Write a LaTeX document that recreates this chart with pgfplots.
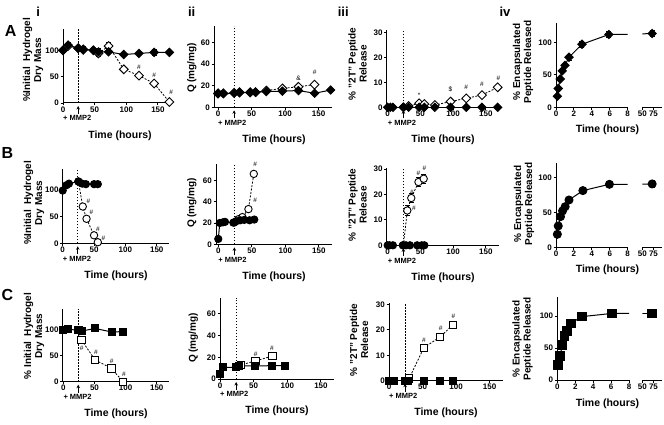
\documentclass[border=0pt]{standalone}
\usepackage{fontspec}
\setmainfont{Liberation Sans}
\usepackage{pgfplots}
\pgfplotsset{compat=1.18}
\usetikzlibrary{arrows.meta}

\newcommand{\tfs}{\bfseries\fontsize{8}{9}\selectfont}
\newcommand{\lfs}{\bfseries\fontsize{10}{11}\selectfont}
\newcommand{\xfs}{\bfseries\fontsize{10.5}{12}\selectfont}
\newcommand{\hfs}{\fontsize{6.5}{7}\selectfont}
\newcommand{\mfs}{\bfseries\fontsize{7.5}{8}\selectfont}

\pgfplotsset{
  pp/.style={scale only axis, anchor=south west,
    axis x line*=bottom, axis y line*=left,
    axis line style={line width=1pt},
    tick style={line width=0.9pt, black},
    tick align=outside, major tick length=2.5pt,
    /pgf/number format/assume math mode=true,
    ticklabel style={font=\tfs},
    xticklabel style={inner sep=1pt},
    yticklabel style={inner sep=1.5pt},
    clip=false},
  colI/.style={pp, xmin=0, xmax=170, ymin=0, ymax=140, xtick={0,50,100,150}, ytick={0,50,100}},
  colII/.style={pp, xmax=170, ymin=0, ymax=75, xtick={0,50,100,150}, ytick={0,20,40,60}},
  colIII/.style={pp, xmax=170, ymin=0, xtick={0,50,100,150}, ytick={0,10,20,30}},
  colIV/.style={pp, xmin=0, xmax=8, ymin=0, xtick={0,2,4,6,8}, ytick={0,50,100}, clip=true},
  colIVb/.style={pp, axis y line=none, xmin=50, xmax=94, xtick={50,75}, ymin=0, clip=true},
  cl/.style={black, line width=1pt, solid},
  op/.style={black, line width=0.8pt, dash pattern=on 2pt off 1.5pt},
  cd/.style={mark=square*, mark size=2.9pt, mark options={rotate=45, fill=black, solid}},
  od/.style={mark=square*, mark size=3.1pt, mark options={rotate=45, fill=white, solid, line width=0.9pt}},
  cc/.style={mark=*, mark size=3.6pt, mark options={fill=black, solid}},
  oc/.style={mark=*, mark size=3.7pt, mark options={fill=white, solid, line width=0.9pt}},
  cs/.style={mark=square*, mark size=3.5pt, mark options={fill=black, solid}},
  os/.style={mark=square*, mark size=3.7pt, mark options={fill=white, solid, line width=0.9pt}},
  vl/.style={black, line width=0.6pt, dash pattern=on 1.5pt off 1.5pt, mark=none},
  eb/.style={error bars/.cd, y dir=both, y explicit, error bar style={line width=0.9pt, solid}, error mark options={rotate=90, mark size=2.5pt, line width=0.9pt, solid}},
}

\newcommand{\mmp}{%
  \draw[-{Stealth[length=3.5pt,width=3.5pt]}, line width=0.9pt] ([yshift=-11pt]axis cs:24,0) -- ([yshift=-3pt]axis cs:24,0);
  \node[anchor=north west, font=\mfs, inner sep=0pt] at ([yshift=-12.5pt]axis cs:0,0) {+ MMP2};}

\begin{document}
\begin{tikzpicture}
\useasboundingbox (0,0) rectangle (664pt,-425pt);

% ---------------- Row A ----------------
\begin{axis}[colI, at={(63pt,-103pt)}, width=107.6pt, height=73.8pt]
\addplot[vl] coordinates {(24,0) (24,140)};
\addplot[op, od, eb] coordinates {(0,100) (8,108) (24,104) (32,101) (48,100) (56,94) +- (0,6) (72,108) +- (0,6) (96,64) (120,52) (144,37) (168,2)};
\addplot[cl, cd, eb] coordinates {(0,100) +- (0,3) (8,110) +- (0,5) (24,104) +- (0,3) (32,102) +- (0,5) (48,100) +- (0,3) (56,97) +- (0,6) (72,97) +- (0,3) (96,92) +- (0,3) (120,94) +- (0,2) (144,96) +- (0,5) (168,96) +- (0,2)};
\node[font=\hfs] at (axis cs:120,67) {\#};
\node[font=\hfs] at (axis cs:144,52) {\#};
\node[font=\hfs] at (axis cs:171,20) {\#};
\mmp
\end{axis}

\begin{axis}[colII, xmin=-6, at={(214pt,-107.3pt)}, width=118pt, height=81pt]
\addplot[vl] coordinates {(24,0) (24,75)};
\addplot[op, od] coordinates {(0,13) (8,13) (24,13.5) (32,14) (48,14) (56,14) (72,15.5) (96,17.5) (120,19) (144,21)};
\addplot[cl, cd] coordinates {(0,12.5) (8,12.5) (24,13) (32,13.5) (48,13.5) (56,14) (72,14.5) (96,15) (120,15.5) (144,13) (168,16)};
\node[font=\hfs] at (axis cs:120,27) {\&};
\node[font=\hfs] at (axis cs:144,32) {\#};
\mmp
\end{axis}

\begin{axis}[colIII, xmin=-1.5, ymax=31, at={(386.7pt,-107.3pt)}, width=112.3pt, height=77.5pt]
\addplot[vl] coordinates {(24,0) (24,31)};
\addplot[op, od] coordinates {(24,0) (32,0.5) (48,1.6) (56,1.3) (72,0.9) (96,2.3) (120,3.6) (144,4.9) (168,8)};
\addplot[cl, cd] coordinates {(0,0) (4,0) (8,0) (24,0) (32,0) (48,0) (56,0) (72,0) (96,0) (120,0) (144,0) (168,0)};
\node[font=\hfs] at (axis cs:48,5) {*};
\node[font=\hfs] at (axis cs:96,7) {\$};
\node[font=\hfs] at (axis cs:120,8) {\#};
\node[font=\hfs] at (axis cs:144,9.3) {\#};
\node[font=\hfs] at (axis cs:169,11.8) {\#};
\mmp
\end{axis}

\begin{axis}[colIV, ymax=130, at={(556pt,-107.3pt)}, width=71.7pt, height=84.5pt]
\addplot[cl, mark=none] coordinates {(0.15,17) (0.25,29) (0.47,43.5) (0.7,56) (1,64.5) (1.45,77) (2.9,97) (5.9,112) (72,113.5)};
\addplot[cl, cd, only marks, eb] coordinates {(0.15,17) +- (0,0) (0.25,29) +- (0,0) (0.47,43.5) +- (0,0) (0.7,56) +- (0,0) (1,64.5) +- (0,0) (1.45,77) +- (0,5) (2.9,97) +- (0,5) (5.9,112) +- (0,5)};
\end{axis}
\begin{axis}[colIVb, ymax=130, at={(642.3pt,-107.3pt)}, width=19.7pt, height=84.5pt]
\addplot[cl, mark=none] coordinates {(5.9,112) (72,113.5)};
\addplot[cl, cd, only marks, eb] coordinates {(72,113.5) +- (0,5)};
\end{axis}

% ---------------- Row B ----------------
\begin{axis}[colI, at={(62.7pt,-243.3pt)}, width=106.6pt, height=74.6pt]
\addplot[vl] coordinates {(24,0) (24,140)};
\addplot[op, oc] coordinates {(25,116) (32,69) (38,46) (50,15) (56,2)};
\addplot[cl, cc] coordinates {(0,99) (6,109) (10,112) (25,116) (31,112) (37,111) (50,111) (56,111)};
\node[font=\hfs] at (axis cs:41,79) {\#};
\node[font=\hfs] at (axis cs:46,57.5) {\#};
\node[font=\hfs] at (axis cs:56,26) {\#};
\node[font=\hfs] at (axis cs:65,9.4) {\#};
\mmp
\end{axis}

\begin{axis}[colII, xmin=-3.4, at={(216pt,-244.3pt)}, width=116.2pt, height=80pt]
\addplot[vl] coordinates {(24,0) (24,75)};
\addplot[op, oc] coordinates {(24,20.5) (30,23.5) (36,25.5) (45,33) (53,66)};
\addplot[cl, cc] coordinates {(0,5) (2.3,20) (7,20.6) (10,21) (22.4,20.3) (26.6,21.6) (32.7,22.5) (38.8,22.9) (46.7,22.5) (53.7,23.2)};
\node[font=\hfs] at (axis cs:55,75) {\#};
\node[font=\hfs] at (axis cs:55,41) {\#};
\mmp
\end{axis}

\begin{axis}[colIII, xmin=-1.5, ymax=30.5, at={(386.7pt,-245.3pt)}, width=112.3pt, height=77.5pt]
\addplot[vl] coordinates {(24,0) (24,30.5)};
\addplot[op, oc, eb] coordinates {(24,0) +- (0,0) (30,13.7) +- (0,1.8) (36,18.6) +- (0,1.8) (47,24.9) +- (0,1.8) (55,26.2) +- (0,1.8)};
\addplot[cl, cc] coordinates {(0,0) (3,0) (8,0) (23,0) (28,0) (34,0) (45,0) (52,0) (56,0)};
\node[font=\hfs] at (axis cs:40,14.6) {\#};
\node[font=\hfs] at (axis cs:37,20.7) {\#};
\node[font=\hfs] at (axis cs:47,28.3) {\#};
\node[font=\hfs] at (axis cs:56,30.3) {\#};
\mmp
\end{axis}

\begin{axis}[colIV, ymax=120, at={(556pt,-247.3pt)}, width=71.7pt, height=84pt]
\addplot[cl, mark=none] coordinates {(0.15,18.6) (0.25,30.5) (0.5,43.8) (0.73,52) (1.02,58) (1.45,67.6) (3,81) (5.96,90) (72,90.5)};
\addplot[cl, cc, mark size=4pt, only marks, eb] coordinates {(0.15,18.6) +- (0,0) (0.25,30.5) +- (0,0) (0.5,43.8) +- (0,0) (0.73,52) +- (0,0) (1.02,58) +- (0,0) (1.45,67.6) +- (0,0) (3,81) +- (0,0) (5.96,90) +- (0,4)};
\end{axis}
\begin{axis}[colIVb, ymax=120, at={(642.3pt,-247.3pt)}, width=19.7pt, height=84pt]
\addplot[cl, mark=none] coordinates {(5.96,90) (72,90.5)};
\addplot[cl, cc, mark size=4pt, only marks, eb] coordinates {(72,90.5) +- (0,5)};
\end{axis}

% ---------------- Row C ----------------
\begin{axis}[colI, xmin=-1, at={(62.7pt,-381.7pt)}, width=106.5pt, height=72.4pt]
\addplot[vl] coordinates {(24,0) (24,140)};
\addplot[op, os] coordinates {(24,100) (29,81) (51,42) (77,26) (96,0)};
\addplot[cl, cs] coordinates {(0,100) (7,101) (24,100) (30,98) (51,103) (78,96) (96,97)};
\node[font=\hfs] at (axis cs:29.5,64.5) {\#};
\node[font=\hfs] at (axis cs:52.4,56) {\#};
\node[font=\hfs] at (axis cs:77.8,38.7) {\#};
\node[font=\hfs] at (axis cs:97.5,14) {\#};
\mmp
\end{axis}

\begin{axis}[colII, xmin=0, at={(220pt,-379pt)}, width=114.4pt, height=81.4pt]
\addplot[vl] coordinates {(24,0) (24,75)};
\addplot[op, os] coordinates {(24,11) (31,13) (52.5,16.6) (78,21.2)};
\addplot[cl, cs] coordinates {(0,4.3) (5,10.8) (23.5,10.8) (28,12) (52.5,12) (78,12.3) (97,12.3)};
\node[font=\hfs] at (axis cs:53,23) {\#};
\node[font=\hfs] at (axis cs:77,28.3) {\#};
\mmp
\end{axis}

\begin{axis}[colIII, xmin=0, ymax=30.5, at={(389pt,-380.7pt)}, width=114pt, height=77.5pt]
\addplot[vl] coordinates {(24,0) (24,30.5)};
\addplot[op, os] coordinates {(24,0) (30,0.9) (52,13) (76,17.2) (95,21.9)};
\addplot[cl, cs] coordinates {(0,0) (4,0) (7,0) (24,0) (28,0) (52,0) (76,0) (95,0)};
\node[font=\hfs] at (axis cs:52,15.9) {\#};
\node[font=\hfs] at (axis cs:77,20.5) {\#};
\node[font=\hfs] at (axis cs:96,25.3) {\#};
\mmp
\end{axis}

\begin{axis}[colIV, ymax=130, at={(557.3pt,-380pt)}, width=71.7pt, height=83.2pt]
\addplot[cl, mark=none] coordinates {(0.11,23.4) (0.3,37.5) (0.57,54.7) (0.8,68.8) (1.05,77) (1.5,88.5) (2.75,99) (6.07,104) (72,104)};
\addplot[cl, cs, mark size=4.3pt, only marks] coordinates {(0.11,23.4) (0.3,37.5) (0.57,54.7) (0.8,68.8) (1.05,77) (1.5,88.5) (2.75,99) (6.07,104)};
\end{axis}
\begin{axis}[colIVb, ymax=130, at={(642.3pt,-380pt)}, width=19.7pt, height=83.2pt]
\addplot[cl, mark=none] coordinates {(6.07,104) (72,104)};
\addplot[cl, cs, mark size=4.3pt, only marks] coordinates {(72,104)};
\end{axis}

% ---------------- Labels ----------------
\foreach \x/\y in {120/136, 274/140, 443/140, 116/276, 274/277, 443/278, 116/414, 277/411, 446/413}
  \node[font=\xfs] at (\x pt,-\y pt) {Time (hours)};
\foreach \y in {130, 270, 404}
  \node[font=\xfs] at (607.5pt,-\y pt) {Time (hours)};

\node[font=\lfs, rotate=90, align=center] at (33pt,-60pt) {\%Initial\ \ Hydrogel\\Dry Mass};
\node[font=\lfs, rotate=90, align=center] at (34pt,-203pt) {\%Initial\ \ Hydrogel\\Dry Mass};
\node[font=\lfs, rotate=90, align=center] at (34pt,-336pt) {\% Initial\ \ Hydrogel\\Dry Mass};
\node[font=\lfs, rotate=90] at (191.7pt,-68pt) {Q (mg/mg)};
\node[font=\lfs, rotate=90] at (191.7pt,-203pt) {Q (mg/mg)};
\node[font=\lfs, rotate=90] at (193.3pt,-338pt) {Q (mg/mg)};
\node[font=\lfs, rotate=90, align=center] at (357.5pt,-64pt) {\% "2T" Peptide\\Release};
\node[font=\lfs, rotate=90, align=center] at (357.5pt,-205pt) {\% "2T" Peptide\\Release};
\node[font=\lfs, rotate=90, align=center] at (359pt,-340pt) {\% "2T" Peptide\\Release};
\node[font=\lfs, rotate=90, align=center] at (523pt,-62pt) {\% Encapsulated\\Peptide Released};
\node[font=\lfs, rotate=90, align=center] at (524pt,-204pt) {\% Encapsulated\\Peptide Released};
\node[font=\lfs, rotate=90, align=center] at (522.5pt,-339pt) {\% Encapsulated\\Peptide Released};

\node[font=\bfseries\fontsize{16}{16}\selectfont] at (10.7pt,-31pt) {A};
\node[font=\bfseries\fontsize{16}{16}\selectfont] at (7.5pt,-153pt) {B};
\node[font=\bfseries\fontsize{16}{16}\selectfont] at (7.5pt,-295pt) {C};
\node[font=\bfseries\fontsize{13}{13}\selectfont] at (38.3pt,-11.7pt) {i};
\node[font=\bfseries\fontsize{13}{13}\selectfont] at (191.7pt,-12.2pt) {ii};
\node[font=\bfseries\fontsize{13}{13}\selectfont] at (343.3pt,-11.7pt) {iii};
\node[font=\bfseries\fontsize{13}{13}\selectfont] at (505pt,-11.7pt) {iv};
\end{tikzpicture}
\end{document}
